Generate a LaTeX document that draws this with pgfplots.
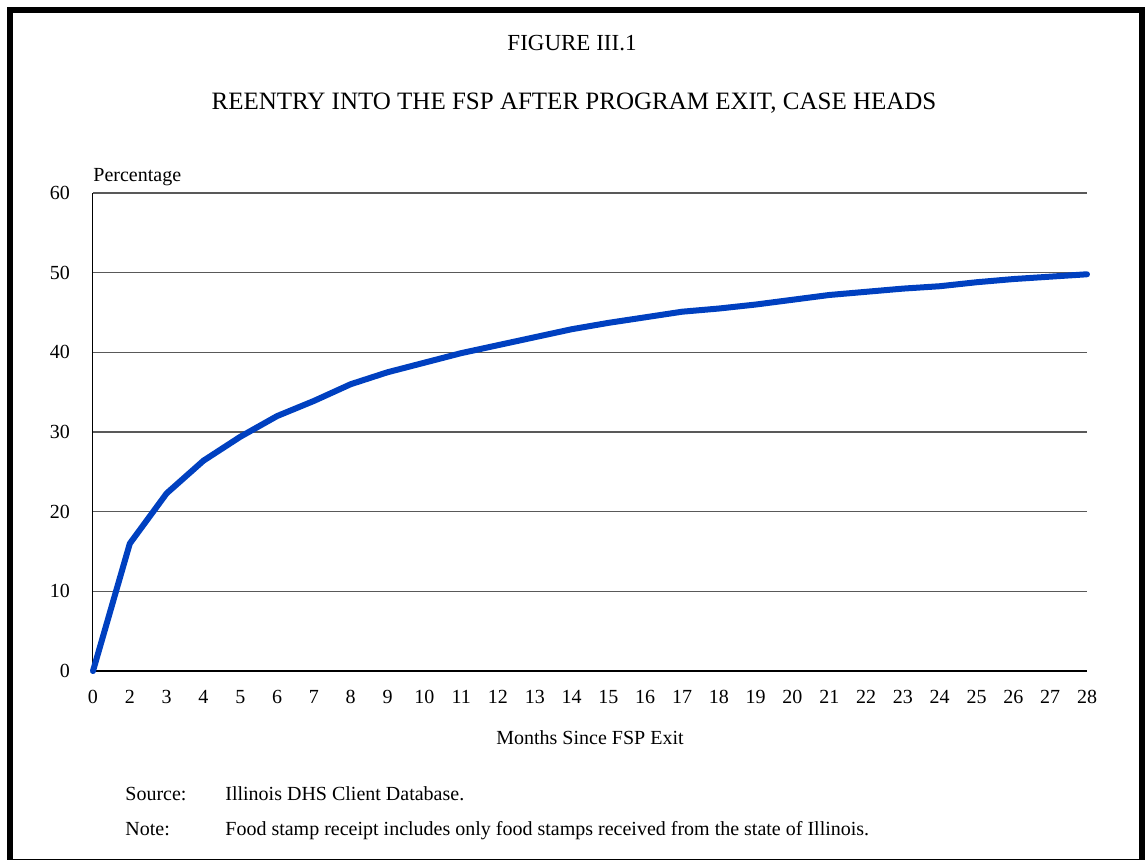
\documentclass[border=0pt]{standalone}
\usepackage{fontspec}
\setmainfont{Liberation Serif}
\usepackage{pgfplots}
\pgfplotsset{compat=1.18}

\definecolor{lineblue}{RGB}{0,64,192}

\begin{document}
\begin{tikzpicture}
    % page area, 1px of the reference = 0.5pt
    \useasboundingbox (0,0) rectangle (573pt,-429.5pt);
    \draw[line width=3pt] (5pt,-5pt) rectangle (571pt,-431pt);

    \node[anchor=base,font=\fontsize{11.5}{14}\selectfont] at (286pt,-25.3pt) {FIGURE III.1};
    \node[anchor=base,font=\fontsize{12.5}{15}\selectfont] at (287pt,-54.5pt) {REENTRY INTO THE FSP AFTER PROGRAM EXIT, CASE HEADS};
    \node[anchor=base west,inner sep=0pt,font=\fontsize{10}{12}\selectfont] at (46.5pt,-90.7pt) {Percentage};

    \begin{axis}[
        at={(46.5pt,-335.5pt)},
        anchor=origin,
        scale only axis,
        width=497pt,
        height=239pt,
        xmin=0, xmax=27,
        ymin=0, ymax=60,
        axis x line*=bottom,
        axis y line*=left,
        x axis line style={-,line width=0.8pt},
        y axis line style={-,line width=0.5pt},
        ytick={0,10,...,60},
        xtick={0,...,27},
        xticklabels={0,2,3,4,5,6,7,8,9,10,11,12,13,14,15,16,17,18,19,20,21,22,23,24,25,26,27,28},
        major tick length=0pt,
        ymajorgrids,
        major grid style={draw=black!65,line width=0.6pt},
        ticklabel style={font=\fontsize{10}{12}\selectfont},
        yticklabel style={anchor=east,xshift=-8pt},
        xticklabel style={anchor=north,yshift=-6pt},
        /pgf/number format/assume math mode=true,
        clip=false,
    ]
    \addplot[lineblue, line width=3pt, line cap=round, line join=round] coordinates {
        (0,0)
        (1,16.0)
        (2,22.3)
        (3,26.4)
        (4,29.4)
        (5,32.0)
        (6,33.9)
        (7,36.0)
        (8,37.5)
        (9,38.7)
        (10,39.9)
        (11,40.9)
        (12,41.9)
        (13,42.9)
        (14,43.7)
        (15,44.4)
        (16,45.1)
        (17,45.5)
        (18,46.0)
        (19,46.6)
        (20,47.2)
        (21,47.6)
        (22,48.0)
        (23,48.3)
        (24,48.8)
        (25,49.2)
        (26,49.5)
        (27,49.8)
    };
    \end{axis}

    \node[anchor=base,font=\fontsize{10}{12}\selectfont] at (295pt,-372pt) {Months Since FSP Exit};
    \node[anchor=base west,inner sep=0pt,font=\fontsize{10}{12}\selectfont] at (62.5pt,-400pt) {Source:};
    \node[anchor=base west,inner sep=0pt,font=\fontsize{10}{12}\selectfont] at (112.5pt,-400pt) {Illinois DHS Client Database.};
    \node[anchor=base west,inner sep=0pt,font=\fontsize{10}{12}\selectfont] at (62.5pt,-417.5pt) {Note:};
    \node[anchor=base west,inner sep=0pt,font=\fontsize{10}{12}\selectfont] at (112.5pt,-417.5pt) {Food stamp receipt includes only food stamps received from the state of Illinois.};
\end{tikzpicture}
\end{document}
